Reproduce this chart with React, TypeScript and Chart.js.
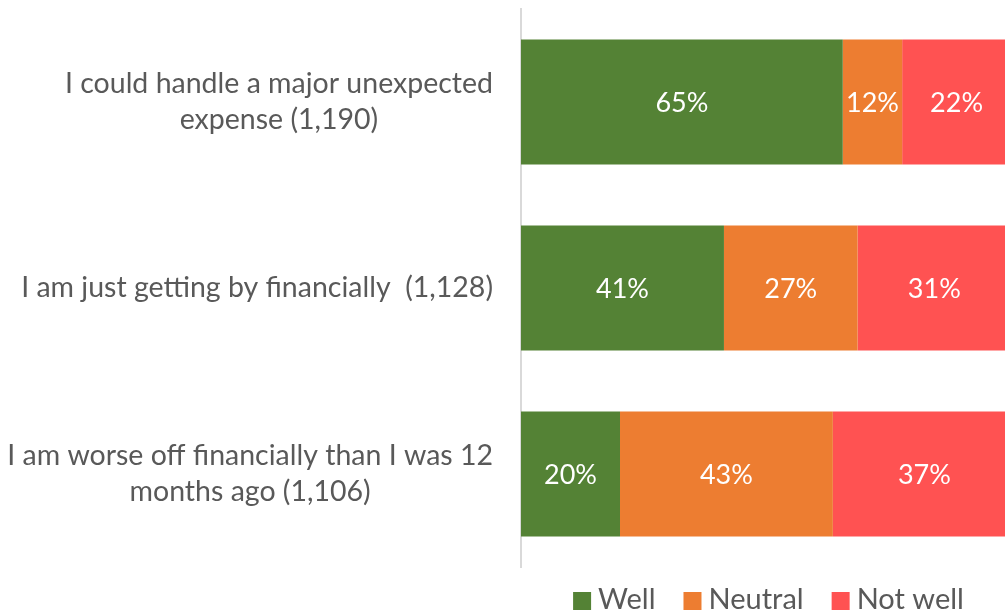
import React, { useEffect, useRef } from "react";
import { Chart, registerables } from "chart.js";

Chart.register(...registerables);

const categories: string[][] = [
  ["I could handle a major unexpected", "expense (1,190)"],
  ["I am just getting by financially  (1,128)"],
  ["I am worse off financially than I was 12", "months ago (1,106)"],
];
const seriesNames = ["Well", "Neutral", "Not well"];
const wellValues = [65, 41, 20];
const neutralValues = [12, 27, 43];
const notWellValues = [22, 31, 37];
const seriesColors = ["#548235", "#ED7D31", "#FF5252"];

const FONT = "Lato, 'Open Sans', sans-serif";
const TEXT_COLOR = "#595959";

const labelPlugin = {
  id: "customLabels",
  afterDatasetsDraw(chart: any) {
    const ctx = chart.ctx;
    ctx.save();
    ctx.fillStyle = "#ffffff";
    ctx.font = `27px ${FONT}`;
    ctx.textAlign = "center";
    ctx.textBaseline = "middle";
    chart.data.datasets.forEach((ds: any, i: number) => {
      const meta = chart.getDatasetMeta(i);
      meta.data.forEach((el: any, j: number) => {
        const v = ds.data[j];
        const cx = (el.x + el.base) / 2;
        ctx.fillText(`${v}%`, cx, el.y + 1);
      });
    });
    ctx.restore();
  },
  afterDraw(chart: any) {
    const ctx = chart.ctx;
    const yScale = chart.scales.y;
    const area = chart.chartArea;
    ctx.save();
    // category labels (block right-aligned, lines centred)
    ctx.fillStyle = TEXT_COLOR;
    ctx.font = `28.5px ${FONT}`;
    ctx.textAlign = "center";
    ctx.textBaseline = "middle";
    const right = area.left - 28;
    const lineH = 36;
    categories.forEach((lines, i) => {
      const widest = Math.max(...lines.map((l) => ctx.measureText(l).width));
      const cx = right - widest / 2;
      const cy = yScale.getPixelForValue(i);
      const startY = cy - ((lines.length - 1) * lineH) / 2;
      lines.forEach((l, k) => ctx.fillText(l, cx, startY + k * lineH));
    });
    // legend
    ctx.font = `29px ${FONT}`;
    ctx.textAlign = "left";
    ctx.textBaseline = "alphabetic";
    const box = 18;
    const gap = 7;
    const itemGap = 28;
    const datasets = chart.data.datasets;
    const widths = datasets.map((d: any) => box + gap + ctx.measureText(d.label).width);
    const total = widths.reduce((a: number, b: number) => a + b, 0) + itemGap * (datasets.length - 1);
    let x = (area.left + area.right) / 2 - total / 2;
    const baseline = area.bottom + 42;
    datasets.forEach((d: any, i: number) => {
      ctx.fillStyle = d.backgroundColor;
      ctx.fillRect(x, baseline - 17, box, box);
      ctx.fillStyle = TEXT_COLOR;
      ctx.fillText(d.label, x + box + gap, baseline);
      x += widths[i] + itemGap;
    });
    ctx.restore();
  },
};

export default function App() {
  const ref = useRef<HTMLCanvasElement>(null);
  useEffect(() => {
    if (!ref.current) return;
    const chart = new Chart(ref.current, {
      type: "bar",
      data: {
        labels: categories.map((c) => c.join(" ")),
        datasets: [wellValues, neutralValues, notWellValues].map((d, i) => ({
          label: seriesNames[i],
          data: d,
          backgroundColor: seriesColors[i],
          borderWidth: 0,
          barPercentage: 0.672,
          categoryPercentage: 1,
        })),
      },
      options: {
        indexAxis: "y",
        animation: false,
        responsive: false,
        maintainAspectRatio: false,
        layout: { padding: { top: 9, right: 0, bottom: 46, left: 0 } },
        scales: {
          x: {
            stacked: true,
            min: 0,
            max: 100,
            display: false,
          },
          y: {
            stacked: true,
            grid: { display: false, drawTicks: false },
            border: { display: true, color: "#d9d9d9", width: 2 },
            ticks: { display: false },
            afterFit: (scale: any) => {
              scale.width = 521;
            },
          },
        },
        plugins: {
          legend: { display: false },
          tooltip: { enabled: false },
        },
      },
      plugins: [labelPlugin],
    });
    return () => chart.destroy();
  }, []);
  return (
    <div
      style={{
        position: "fixed",
        left: 0,
        top: 0,
        width: 1005,
        height: 613,
        overflow: "hidden",
        background: "#fff",
      }}
    >
      <canvas ref={ref} width={1016} height={613} style={{ display: "block" }} />
    </div>
  );
}
